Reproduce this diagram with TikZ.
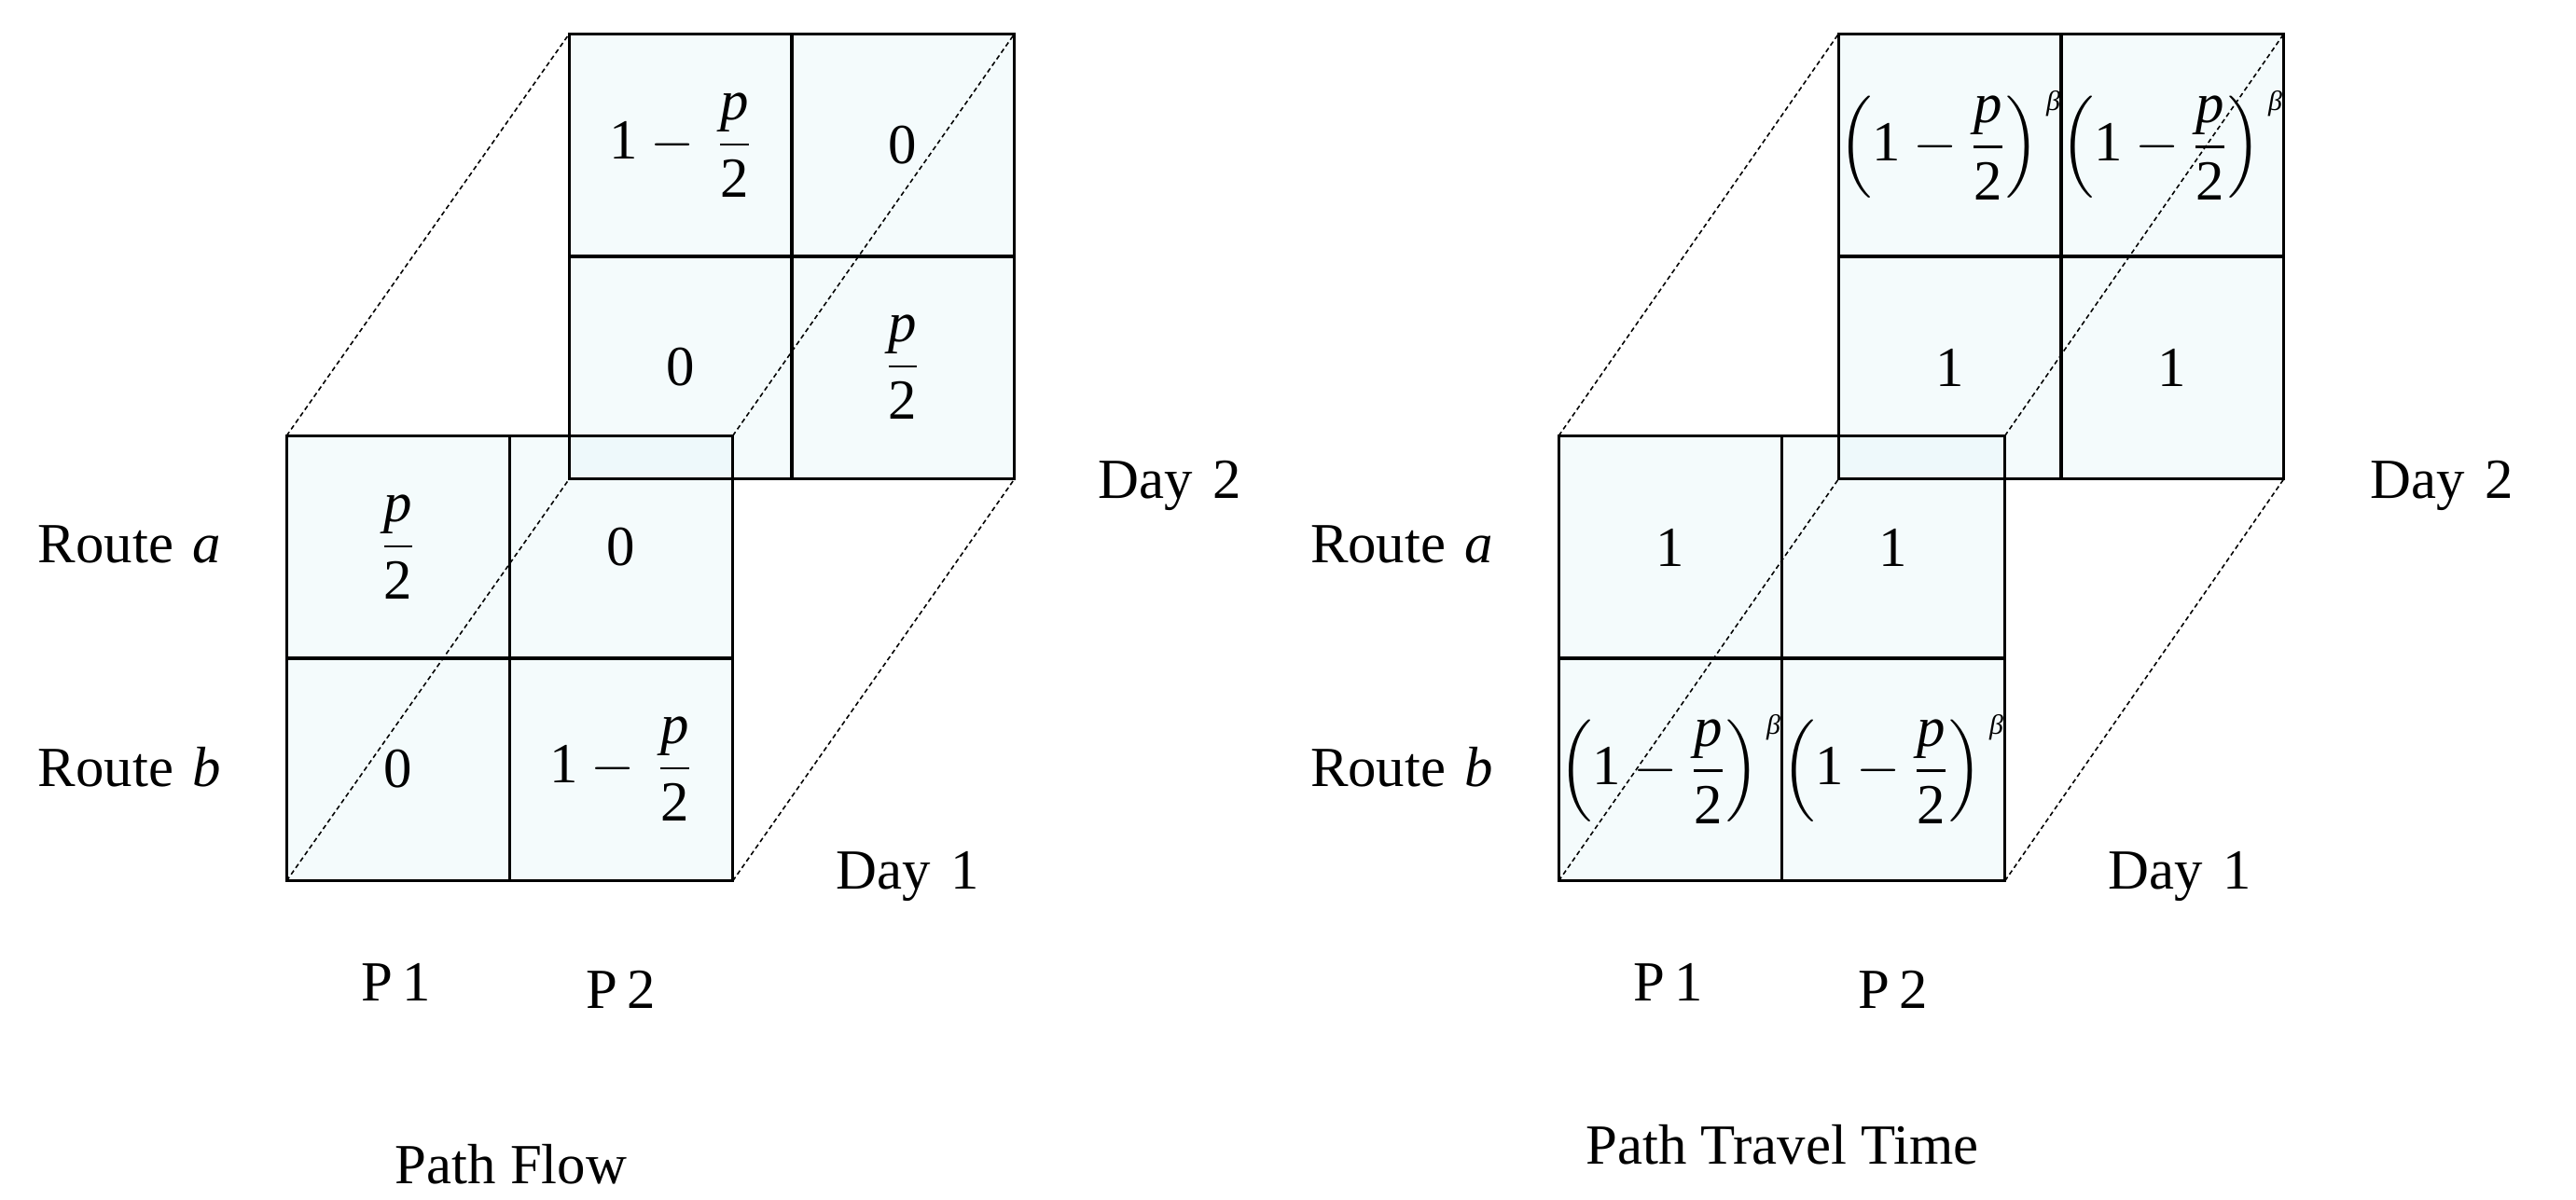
\documentclass[tikz,border=0pt]{standalone}
\usepackage{amsmath}
\usepackage{fontspec}
\setmainfont{Liberation Serif}
\usepackage{tikz}
\definecolor{CellBlue}{RGB}{228,246,248}
\newcommand{\pfrac}{\dfrac{\text{\itshape p}}{\text{2}}}
\newcommand{\onemp}{\text{1}-\,\pfrac}
\newcommand{\powb}{\makebox[0pt]{$\left(\text{1}-\pfrac\right)^{\,\text{\fontsize{8.5}{9}\selectfont\itshape β}}$}}

\begin{document}
\begin{tikzpicture}[x=1cm, y=-1cm,
    font=\fontsize{17.3}{20}\selectfont,
    cell/.style={minimum width=2.38cm, minimum height=2.38cm, inner sep=0pt,
      fill=CellBlue, fill opacity=0.4, text opacity=1},
    grid/.style={line width=0.75pt, color=black},
    link/.style={dash pattern=on 0.5mm off 0.35mm, line width=0.45pt},
    lbl/.style={anchor=base, inner sep=0pt}
  ]
  \useasboundingbox (0,0) rectangle (27.62,12.86);

  % path flow, day 2
  \node[cell] (lb11) at (7.30,1.56) {$\onemp$};
  \node[cell] (lb12) at (9.68,1.56) {0};
  \node[cell] (lb21) at (7.30,3.94) {0};
  \node[cell] (lb22) at (9.68,3.94) {$\pfrac$};
  % path flow, day 1
  \node[cell] (lf11) at (4.27,5.87) {$\pfrac$};
  \node[cell] (lf12) at (6.66,5.87) {0};
  \node[cell] (lf21) at (4.27,8.25) {0};
  \node[cell] (lf22) at (6.66,8.25) {$\onemp$};

  % path travel time, day 2
  \node[cell] (rb11) at (20.91,1.56) {\powb};
  \node[cell] (rb12) at (23.29,1.56) {\powb};
  \node[cell] (rb21) at (20.91,3.94) {1};
  \node[cell] (rb22) at (23.29,3.94) {1};
  % path travel time, day 1
  \node[cell] (rf11) at (17.91,5.87) {1};
  \node[cell] (rf12) at (20.30,5.87) {1};
  \node[cell] (rf21) at (17.91,8.25) {\powb};
  \node[cell] (rf22) at (20.30,8.25) {\powb};

  % dashed edges of the box
  \foreach \g in {l,r} {
    \draw[link] (\g f11.north west) -- (\g b11.north west);
    \draw[link] (\g f12.north east) -- (\g b12.north east);
    \draw[link] (\g f21.south west) -- (\g b21.south west);
    \draw[link] (\g f22.south east) -- (\g b22.south east);
  }

  % cell borders on top
  \foreach \c in {lb11,lb12,lb21,lb22,lf11,lf12,lf21,lf22,rb11,rb12,rb21,rb22,rf11,rf12,rf21,rf22}
    \draw[grid] (\c.south west) rectangle (\c.north east);

  % labels
  \node[lbl, anchor=base east] (lra) at (2.38,6.03) {Route\hspace{0.34em}\textit{a}};
  \node[lbl, anchor=base east] (lrb) at (2.38,8.43) {Route\hspace{0.34em}\textit{b}};
  \node[lbl] (lp1) at (4.25,10.73) {P\,1};
  \node[lbl] (lp2) at (6.66,10.81) {P\,2};
  \node[lbl, anchor=base west] (ld2) at (11.77,5.34) {Day\hspace{0.35em}2};
  \node[lbl, anchor=base west] (ld1) at (8.96,9.53) {Day\hspace{0.35em}1};
  \node[lbl] (ltitle) at (5.48,12.69) {Path Flow};

  \node[lbl, anchor=base east] (rra) at (16.02,6.03) {Route\hspace{0.34em}\textit{a}};
  \node[lbl, anchor=base east] (rrb) at (16.02,8.43) {Route\hspace{0.34em}\textit{b}};
  \node[lbl] (rp1) at (17.89,10.73) {P\,1};
  \node[lbl] (rp2) at (20.30,10.81) {P\,2};
  \node[lbl, anchor=base west] (rd2) at (25.41,5.34) {Day\hspace{0.35em}2};
  \node[lbl, anchor=base west] (rd1) at (22.60,9.53) {Day\hspace{0.35em}1};
  \node[lbl] (rtitle) at (19.11,12.48) {Path Travel Time};
\end{tikzpicture}
\end{document}
